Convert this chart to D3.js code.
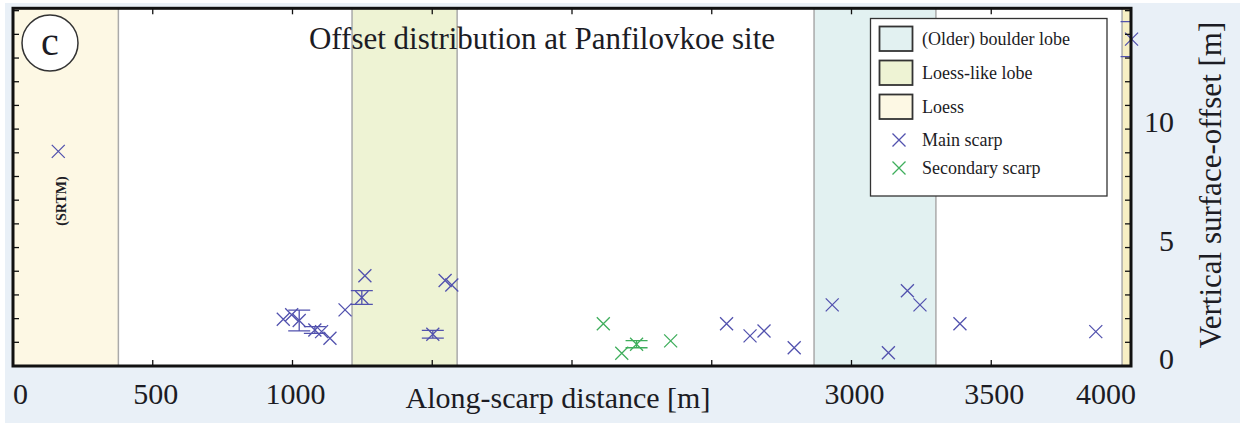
<!DOCTYPE html>
<html>
<head>
<meta charset="utf-8">
<script src="https://cdn.jsdelivr.net/npm/d3@7"></script>
<style>
  body { margin: 0; background: white; }
  text { font-family: "Liberation Serif", "DejaVu Serif", serif; fill: #1c1c24; }
</style>
</head>
<body>
<svg id="chart_svg" width="1240" height="425"></svg>
<script>
/* data */
var band_names = ['Loess', 'Loess-like lobe', '(Older) boulder lobe', 'Loess'];
var band_start = [0, 1213, 2866, 3968];
var band_end = [377, 1589, 3302, 4010];

var main_x = [162, 967, 997, 1024, 1080, 1104, 1134, 1188, 1248, 1259, 1502, 1546, 1570, 2553, 2637, 2687, 2795, 2931, 3132, 3200, 3245, 3388, 3874, 4002];
var main_y = [9.06, 1.97, 2.16, 1.92, 1.52, 1.45, 1.17, 2.37, 2.89, 3.81, 1.34, 3.61, 3.42, 1.78, 1.27, 1.48, 0.77, 2.58, 0.56, 3.18, 2.58, 1.78, 1.45, 13.8];
var main_err = [0, 0, 0, 0.44, 0.14, 0, 0, 0, 0.29, 0, 0.16, 0, 0, 0, 0, 0, 0, 0, 0, 0, 0, 0, 0, 0.74];

var sec_x = [2112, 2178, 2231, 2353];
var sec_y = [1.78, 0.54, 0.92, 1.06];
var sec_err = [0, 0, 0.15, 0];

var x_ticks = [0, 500, 1000, 1500, 2000, 2500, 3000, 3500, 4000];
var x_labels = ['0', '500', '1000', '', '', '', '3000', '3500', '4000'];
var y_ticks = d3.range(0, 16);
var y_labels = [0, 5, 10];

var legend_items = ['(Older) boulder lobe', 'Loess-like lobe', 'Loess', 'Main scarp', 'Secondary scarp'];

function createChart(){
  var svg = d3.select('#chart_svg');

  var band_colour = { 'Loess': '#fdf8e4', 'Loess-like lobe': '#eef3d4', '(Older) boulder lobe': '#e2f1f1' };
  var main_colour = '#5252ae';
  var sec_colour = '#3fae5c';

  var x = d3.scaleLinear().domain([0, 4000]).range([13, 1131]);
  var y = d3.scaleLinear().domain([0, 15.1]).range([366, 8.3]);

  /* figure background */
  svg.append('rect').attr('x', 5).attr('y', 3).attr('width', 1235).attr('height', 420).style('fill', '#e9f0f7');
  svg.append('rect').attr('x', x(0)).attr('y', y(15.1)).attr('width', x(4000) - x(0)).attr('height', y(0) - y(15.1)).style('fill', 'white');

  svg.append('clipPath').attr('id', 'plot_clip').append('rect')
    .attr('x', x(0)).attr('y', y(15.1)).attr('width', x(4000) - x(0)).attr('height', y(0) - y(15.1));

  /* lithology bands */
  var bands = svg.append('g').attr('clip-path', 'url(#plot_clip)');
  band_names.forEach(function(name, i){
    bands.append('rect')
      .attr('x', x(band_start[i])).attr('y', y(15.1))
      .attr('width', x(band_end[i]) - x(band_start[i])).attr('height', y(0) - y(15.1))
      .style('fill', i == 3 ? '#f7efc4' : band_colour[name]);
    [band_start[i], band_end[i]].forEach(function(v){
      if (v <= 0 || v >= 4000) return;
      bands.append('line').attr('x1', x(v)).attr('x2', x(v)).attr('y1', y(15.1)).attr('y2', y(0))
        .style('stroke', '#aaaaaa').style('stroke-width', 1.5);
    });
  });

  /* title and panel label */
  svg.append('text').attr('x', 542).attr('y', 49).style('text-anchor', 'middle').style('font-size', '31px')
    .text('Offset distribution at Panfilovkoe site');
  svg.append('circle').attr('cx', 50).attr('cy', 43).attr('r', 28).style('fill', 'white').style('stroke', '#333').style('stroke-width', 1.5);
  svg.append('text').attr('x', 50).attr('y', 55).style('text-anchor', 'middle').style('font-size', '40px').text('c');

  svg.append('text').attr('transform', 'translate(66,201) rotate(-90)').style('text-anchor', 'middle')
    .style('font-size', '14px').style('font-weight', 'bold').text('(SRTM)');

  /* markers */
  function cross(g, cx, cy, colour){
    var s = 6.5;
    g.append('path').attr('d', 'M' + (cx - s) + ',' + (cy - s) + 'L' + (cx + s) + ',' + (cy + s) + 'M' + (cx + s) + ',' + (cy - s) + 'L' + (cx - s) + ',' + (cy + s))
      .style('stroke', colour).style('stroke-width', 1.3).style('fill', 'none');
  }
  function errbar(g, cx, v, e, colour){
    var w = 11;
    var y1 = y(v + e), y2 = y(v - e);
    g.append('path').attr('d', 'M' + cx + ',' + y1 + 'L' + cx + ',' + y2 + 'M' + (cx - w) + ',' + y1 + 'L' + (cx + w) + ',' + y1 + 'M' + (cx - w) + ',' + y2 + 'L' + (cx + w) + ',' + y2)
      .style('stroke', colour).style('stroke-width', 1.3).style('fill', 'none');
  }

  var errs = svg.append('g').attr('clip-path', 'url(#plot_clip)');
  var points = svg.append('g');
  main_x.forEach(function(v, i){
    if (main_err[i] > 0) errbar(errs, x(v), main_y[i], main_err[i], main_colour);
    cross(points, x(v), y(main_y[i]), main_colour);
  });
  sec_x.forEach(function(v, i){
    if (sec_err[i] > 0) errbar(errs, x(v), sec_y[i], sec_err[i], sec_colour);
    cross(points, x(v), y(sec_y[i]), sec_colour);
  });

  /* axes box with inward ticks */
  var frame = svg.append('g');
  x_ticks.forEach(function(t){
    frame.append('line').attr('x1', x(t)).attr('x2', x(t)).attr('y1', y(0)).attr('y2', y(0) - 6).style('stroke', '#111').style('stroke-width', 1.3);
    frame.append('line').attr('x1', x(t)).attr('x2', x(t)).attr('y1', y(15.1)).attr('y2', y(15.1) + 6).style('stroke', '#111').style('stroke-width', 1.3);
  });
  y_ticks.forEach(function(t){
    frame.append('line').attr('x1', x(0)).attr('x2', x(0) + 6).attr('y1', y(t)).attr('y2', y(t)).style('stroke', '#111').style('stroke-width', 1.3);
    frame.append('line').attr('x1', x(4000)).attr('x2', x(4000) - 6).attr('y1', y(t)).attr('y2', y(t)).style('stroke', '#111').style('stroke-width', 1.3);
  });
  frame.append('rect').attr('x', x(0)).attr('y', y(15.1)).attr('width', x(4000) - x(0)).attr('height', y(0) - y(15.1))
    .style('fill', 'none').style('stroke', '#111').style('stroke-width', 3);

  x_ticks.forEach(function(t, i){
    if (!x_labels[i]) return;
    var anchor = i == 0 ? 'start' : (i == x_ticks.length - 1 ? 'end' : 'middle');
    var dx = i == 0 ? 0 : (i == x_ticks.length - 1 ? 5 : 3);
    svg.append('text').attr('x', x(t) + dx).attr('y', 404).style('text-anchor', anchor).style('font-size', '30px').text(x_labels[i]);
  });
  y_labels.forEach(function(t){
    svg.append('text').attr('x', 1174).attr('y', y(t) + 3).style('text-anchor', 'end').style('font-size', '30px').text(t);
  });

  svg.append('text').attr('x', 558).attr('y', 408).style('text-anchor', 'middle').style('font-size', '30px').text('Along-scarp distance [m]');
  svg.append('text').attr('transform', 'translate(1221,185) rotate(-90)').style('text-anchor', 'middle').style('font-size', '31px')
    .text('Vertical surface-offset [m]');

  /* legend */
  var legend = svg.append('g');
  legend.append('rect').attr('x', 870.5).attr('y', 18.5).attr('width', 236.5).attr('height', 177.5)
    .style('fill', 'white').style('stroke', '#333').style('stroke-width', 1.3);
  var legend_y = [39, 73, 107, 140, 168];
  var legend_fill = [band_colour['(Older) boulder lobe'], band_colour['Loess-like lobe'], band_colour['Loess']];
  legend_items.forEach(function(name, i){
    if (i < 3){
      legend.append('rect').attr('x', 879.5).attr('y', legend_y[i] - 12.5).attr('width', 33).attr('height', 24.5)
        .style('fill', legend_fill[i]).style('stroke', '#333').style('stroke-width', 1.8);
    } else {
      cross(legend, 899, legend_y[i], i == 3 ? main_colour : sec_colour);
    }
    legend.append('text').attr('x', 922).attr('y', legend_y[i] + 6).style('font-size', '18px').text(name);
  });
}

createChart();
</script>
</body>
</html>
